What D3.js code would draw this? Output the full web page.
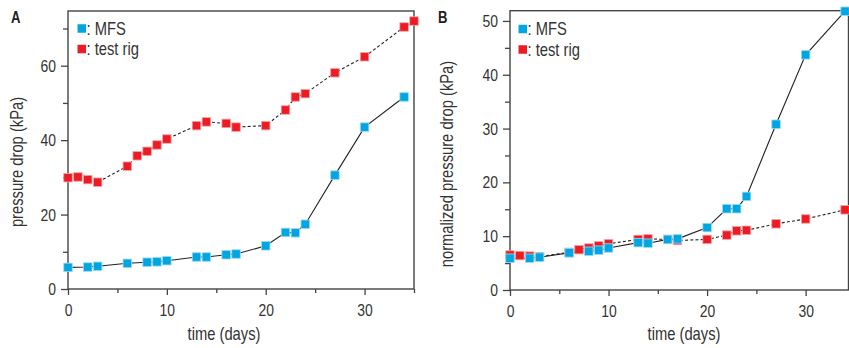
<!DOCTYPE html>
<html>
<head>
<meta charset="utf-8">
<script src="https://cdn.jsdelivr.net/npm/d3@7"></script>
<style>
  html, body { margin: 0; padding: 0; background: #fff; }
  svg { display: block; }
  text { font-family: "Liberation Sans", Arial, sans-serif; fill: #333; }
</style>
</head>
<body>
<svg id="chart" width="849" height="348"></svg>
<script>
// ---------- data ----------
const daysMFS = [0, 2, 3, 6, 8, 9, 10, 13, 14, 16, 17, 20, 22, 23, 24, 27, 30, 34];
const pressureMFS = [5.8, 5.9, 6.1, 6.9, 7.2, 7.3, 7.6, 8.6, 8.6, 9.2, 9.4, 11.6, 15.2, 15.1, 17.4, 30.6, 43.5, 51.6];

const daysRigA = [0, 1, 2, 3, 6, 7, 8, 9, 10, 13, 14, 16, 17, 20, 22, 23, 24, 27, 30, 34, 35];
const pressureRig = [29.9, 30.1, 29.4, 28.7, 33.0, 35.8, 37.0, 38.7, 40.3, 43.9, 44.9, 44.5, 43.5, 43.9, 48.1, 51.6, 52.5, 58.1, 62.4, 70.4, 72.0];

const normMFS = [5.9, 5.9, 6.1, 6.9, 7.2, 7.4, 7.8, 8.8, 8.7, 9.4, 9.5, 11.6, 15.1, 15.1, 17.4, 30.8, 43.7, 51.8];

const daysRigB = [0, 1, 2, 3, 6, 7, 8, 9, 10, 13, 14, 16, 17, 20, 22, 23, 24, 27, 30, 34];
const normRig = [6.5, 6.4, 6.3, 6.2, 7.0, 7.5, 7.8, 8.2, 8.6, 9.4, 9.5, 9.4, 9.2, 9.4, 10.2, 11.0, 11.1, 12.3, 13.2, 14.9];

const xMajorTicks = [0, 10, 20, 30];
const xMinorTicksA = [5, 15, 25, 35];
const xMinorTicksB = [5, 15, 25];
const yMajorTicksA = [0, 20, 40, 60];
const yMinorTicksA = [10, 30, 50, 70];
const yMajorTicksB = [0, 10, 20, 30, 40, 50];
const yMinorTicksB = [5, 15, 25, 35, 45];

const seriesNames = ["MFS", "test rig"];
const colors = { "MFS": "#00a6e2", "test rig": "#ec1c24" };
const strokes = { "MFS": "#9bdaf3", "test rig": "#f7a4a7" };

// ---------- drawing ----------
const NARROW = 0.82;
const svg = d3.select("#chart");
const zip = (xs, ys) => xs.map((x, i) => ({ x, y: ys[i] }));

// narrow a text element (emulates a condensed face): move x/y into a transform
function narrow(sel, rot) {
  sel.each(function () {
    const t = d3.select(this);
    const x = +t.attr("x") || 0, y = +t.attr("y") || 0;
    t.attr("x", 0).attr("y", 0)
      .attr("transform", `translate(${x},${y})${rot ? " rotate(" + rot + ")" : ""} scale(${NARROW},1)`);
  });
}

function panel(cfg) {
  const g = svg.append("g");
  const x = d3.scaleLinear().domain(cfg.xDomain).range(cfg.xRange);
  const y = d3.scaleLinear().domain(cfg.yDomain).range(cfg.yRange);

  // x axis (major + minor)
  const xb = cfg.yRange[0];
  g.append("g").attr("transform", `translate(0,${xb})`)
    .call(d3.axisBottom(x).tickValues(cfg.xMinor).tickSize(4).tickFormat("").tickSizeOuter(0));
  g.append("g").attr("transform", `translate(0,${xb})`)
    .call(d3.axisBottom(x).tickValues(xMajorTicks).tickSize(6).tickPadding(9).tickSizeOuter(0))
    .call(a => a.selectAll("text").attr("font-size", 17).call(narrow));
  // y axis
  const yl = cfg.xRange[0];
  g.append("g").attr("transform", `translate(${yl},0)`)
    .call(d3.axisLeft(y).tickValues(cfg.yMinor).tickSize(5).tickFormat("").tickSizeOuter(0));
  g.append("g").attr("transform", `translate(${yl},0)`)
    .call(d3.axisLeft(y).tickValues(cfg.yMajor).tickSize(7).tickPadding(5).tickSizeOuter(0))
    .call(a => a.selectAll("text").attr("font-size", 17).call(narrow));
  g.selectAll(".domain").remove();
  g.selectAll(".tick line").attr("stroke", "#444").attr("stroke-width", 1.3);

  // frame
  g.append("rect")
    .attr("x", cfg.xRange[0]).attr("y", cfg.yRange[1])
    .attr("width", cfg.xRange[1] - cfg.xRange[0])
    .attr("height", cfg.yRange[0] - cfg.yRange[1])
    .attr("fill", "none").attr("stroke", "#444").attr("stroke-width", 1.4);

  // series
  const line = d3.line().x(d => x(d.x)).y(d => y(d.y));
  const sz = 8.5;
  cfg.series.forEach(s => {
    g.append("path").datum(s.data)
      .attr("d", line).attr("fill", "none")
      .attr("stroke", "#222").attr("stroke-width", 1.1)
      .attr("stroke-dasharray", s.name === "test rig" ? "3,2.2" : null);
  });
  cfg.series.forEach(s => {
    g.selectAll(null).data(s.data).enter().append("rect")
      .attr("x", d => x(d.x) - sz / 2).attr("y", d => y(d.y) - sz / 2)
      .attr("width", sz).attr("height", sz)
      .attr("fill", colors[s.name]).attr("stroke", strokes[s.name]).attr("stroke-width", 0.8);
  });

  // legend
  seriesNames.forEach((n, i) => {
    const ly = cfg.legend[1] + i * 20.5;
    g.append("rect").attr("x", cfg.legend[0]).attr("y", ly - 4.25)
      .attr("width", 8.5).attr("height", 8.5).attr("fill", colors[n]);
    g.append("text").attr("x", cfg.legend[0] + 9).attr("y", ly + 6)
      .attr("font-size", 18).text(": " + n).call(narrow);
  });

  // panel letter
  g.append("text").attr("x", cfg.letter[0]).attr("y", cfg.letter[1])
    .attr("font-size", 16).attr("font-weight", "bold").style("fill", "#222").text(cfg.label)
    .call(narrow);

  // axis titles
  g.append("text").attr("x", cfg.xTitle[0]).attr("y", cfg.xTitle[1])
    .attr("text-anchor", "middle").attr("font-size", 18).text("time (days)").call(narrow);
  g.append("text").attr("x", cfg.yTitle[0]).attr("y", cfg.yTitle[1])
    .attr("text-anchor", "middle").attr("font-size", 18).text(cfg.yTitleText)
    .call(s => narrow(s, -90));
}

panel({
  label: "A",
  letter: [11, 23],
  xDomain: [0, 35], xRange: [68, 414],
  yDomain: [0, 74.7], yRange: [289, 11],
  xMinor: xMinorTicksA, yMajor: yMajorTicksA, yMinor: yMinorTicksA,
  series: [
    { name: "MFS", data: zip(daysMFS, pressureMFS) },
    { name: "test rig", data: zip(daysRigA, pressureRig) }
  ],
  legend: [77.5, 28.5],
  xTitle: [224, 340],
  yTitle: [22.5, 162],
  yTitleText: "pressure drop (kPa)"
});

panel({
  label: "B",
  letter: [438, 23],
  xDomain: [0, 34.35], xRange: [510, 848.5],
  yDomain: [0, 51.9], yRange: [290, 10.7],
  xMinor: xMinorTicksB, yMajor: yMajorTicksB, yMinor: yMinorTicksB,
  series: [
    { name: "test rig", data: zip(daysRigB, normRig) },
    { name: "MFS", data: zip(daysMFS, normMFS) }
  ],
  legend: [518.5, 29],
  xTitle: [684, 340],
  yTitle: [453, 164],
  yTitleText: "normalized pressure drop (kPa)"
});
</script>
</body>
</html>
